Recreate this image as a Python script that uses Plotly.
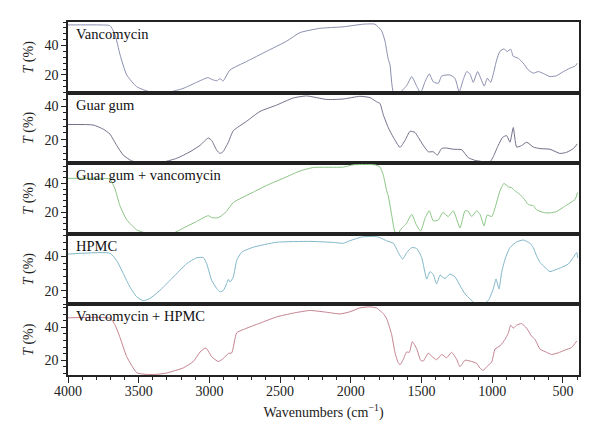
import plotly.graph_objects as go
from plotly.subplots import make_subplots

panel_labels = ["Vancomycin", "Guar gum", "Guar gum + vancomycin", "HPMC", "Vancomycin + HPMC"]
colors = ["#8a8eae", "#746e88", "#88c482", "#80b6c8", "#c4818f"]
y_ranges = [[8, 56], [6, 48], [5, 54], [12, 53], [11, 54]]

wn_vanco = [4000, 3774, 3703, 3668, 3632, 3585, 3514, 3420, 3279, 3187, 3090, 3010, 2984, 2948, 2925, 2904,
            2854, 2736, 2595, 2453, 2359, 2218, 2055, 1914, 1829, 1782, 1758, 1737, 1723, 1699, 1664, 1629,
            1603, 1569, 1534, 1506, 1475, 1445, 1417, 1381, 1357, 1299, 1263, 1233, 1204, 1180, 1157, 1134,
            1103, 1074, 1056, 1035, 1011, 992, 968, 945, 917, 893, 869, 851, 815, 780, 745, 709, 674, 639,
            591, 544, 497, 450, 414, 398]
t_vanco = [54, 54, 53.5, 47.6, 33.8, 20, 12, 8.5, 8.5, 10.8, 15, 18.2, 17, 16, 17.5, 15.8,
           23.4, 29.2, 36.1, 43, 48.8, 51.7, 52.7, 54.5, 54.5, 50, 43, 31.5, 26.9, 8.5, 7.2, 10.1,
           13, 18.9, 12.4, 7.8, 15.4, 20.7, 15.4, 14.3, 19.3, 20, 17.7, 8.5, 17, 22.3, 20.7, 15,
           22.3, 16, 12.4, 17.7, 15, 20.7, 30.3, 36.1, 37.7, 36, 37.5, 32.7, 31.3, 28, 23.4, 21.2, 22.3, 21,
           18.9, 19.5, 22.3, 24.6, 26, 28]

wn_guar = [4000, 3821, 3750, 3703, 3656, 3609, 3550, 3467, 3349, 3231, 3137, 3066, 3008, 2984, 2948, 2925,
           2902, 2866, 2831, 2736, 2642, 2524, 2407, 2312, 2170, 2053, 1935, 1864, 1817, 1794, 1770, 1735,
           1699, 1652, 1617, 1581, 1546, 1523, 1487, 1452, 1417, 1388, 1357, 1322, 1275, 1216, 1169, 1122,
           1086, 1051, 1015, 992, 957, 926, 898, 874, 851, 827, 792, 756, 709, 662, 591, 521, 473, 426, 398]
t_guar = [29, 28.7, 26.2, 23.3, 16.6, 10.8, 7.4, 6.2, 6.3, 8.9, 12.8, 16.6, 21, 19.5, 13.7, 11.8,
          13, 18.5, 25.3, 31, 36.8, 40.6, 44.8, 46, 43.9, 44.2, 45.8, 45, 42.5, 41.6, 34.8, 27.2,
          21.4, 15.4, 19.5, 25, 24.3, 21.4, 16.6, 12.8, 12.8, 10.8, 14.8, 15, 14.3, 14, 9.3, 7.7,
          7.2, 6.5, 6.8, 9.9, 16.6, 21.4, 22.4, 18.5, 27.2, 15.6, 16.5, 18.5, 15.6, 14.7, 14.3, 11.8, 12.5, 14.7, 17.5]

wn_gv = [4000, 3774, 3703, 3668, 3632, 3585, 3514, 3443, 3255, 3185, 3090, 3008, 2984, 2948, 2925, 2878,
         2831, 2690, 2595, 2453, 2359, 2265, 2053, 1982, 1829, 1794, 1770, 1746, 1735, 1711, 1687, 1666,
         1640, 1617, 1605, 1569, 1539, 1506, 1475, 1445, 1417, 1381, 1350, 1311, 1275, 1228, 1192, 1169,
         1145, 1110, 1086, 1058, 1035, 1003, 980, 945, 917, 886, 862, 839, 815, 780, 745, 709, 686, 639,
         591, 544, 497, 450, 414, 396]
t_gv = [43.5, 43.5, 43, 36.2, 24.3, 14.8, 7.7, 5.4, 5.6, 8.9, 13.6, 17.6, 16.3, 16, 16.8, 20.7,
        26.7, 33.9, 38.6, 44.6, 48.6, 51, 51.3, 52.9, 52.9, 51.4, 45.7, 34.8, 31.4, 18.1, 6.2, 5.3,
        8.9, 11, 12.4, 18.5, 11.7, 6.9, 15.7, 21, 14, 14.5, 19.8, 17, 21, 9.1, 21, 20.6,
        17, 21, 18.5, 10.5, 18, 17, 22.9, 34.8, 40, 37.6, 37, 34.8, 33.1, 30, 25.3, 24.5, 21.7, 19.8,
        19.5, 20.5, 23.4, 26.4, 28.8, 33.6]

wn_hpmc = [4000, 3703, 3656, 3609, 3562, 3514, 3467, 3420, 3349, 3255, 3161, 3090, 3043, 3019, 2984, 2948,
           2925, 2902, 2878, 2866, 2854, 2831, 2807, 2772, 2690, 2524, 2289, 2124, 2053, 2006, 1912, 1817,
           1794, 1746, 1699, 1664, 1633, 1605, 1569, 1534, 1499, 1463, 1440, 1417, 1393, 1369, 1334, 1299,
           1263, 1228, 1192, 1157, 1122, 1086, 1063, 1027, 992, 973, 952, 933, 909, 874, 827, 780, 733, 709,
           686, 662, 627, 591, 556, 509, 462, 426, 402, 395]
t_hpmc = [41.2, 41.7, 37.5, 29.9, 22.1, 16.4, 14.1, 15.5, 20.2, 27.9, 35.6, 39.1, 39.2, 35.6, 26, 21.2,
          19.3, 20, 24.1, 26.5, 25, 27.9, 37.5, 42.3, 45.2, 48.1, 48.6, 48, 47.5, 49, 51.3, 51.3,
          50.8, 48.9, 47.5, 42.1, 38.3, 42, 45, 44.5, 39.3, 26.8, 31, 29.5, 23.9, 29, 27, 29.6,
          28, 23, 18.1, 15.2, 12.6, 12.3, 12.3, 14.3, 21, 26.8, 21, 30.6, 38.3, 45, 48.3, 49.4, 47.5, 45,
          40.2, 36.4, 33.5, 31, 32, 33.5, 35.4, 39.3, 42.1, 39]

wn_vh = [4000, 3703, 3668, 3632, 3585, 3514, 3455, 3371, 3302, 3255, 3185, 3114, 3066, 3031, 3019, 2984,
         2937, 2902, 2866, 2842, 2807, 2760, 2642, 2524, 2407, 2289, 2170, 2076, 2006, 1935, 1864, 1817,
         1794, 1770, 1746, 1711, 1687, 1668, 1652, 1629, 1605, 1586, 1565, 1534, 1506, 1487, 1475, 1452,
         1428, 1393, 1357, 1322, 1287, 1251, 1228, 1192, 1157, 1110, 1086, 1063, 1039, 1003, 980, 945,
         909, 886, 869, 851, 827, 792, 756, 721, 697, 662, 615, 580, 533, 485, 438, 402]
t_vh = [45.8, 45.5, 41.6, 33.8, 22.2, 12.4, 11.4, 11.4, 12.2, 13.4, 15.3, 19.2, 25, 27.4, 27, 22.2,
        19.2, 21, 24.1, 24.5, 36.7, 38.7, 42.6, 46.4, 48.7, 50.3, 49.2, 48.2, 49.5, 51.9, 52.5, 51.8,
        50.2, 48.4, 45.2, 35.6, 24.5, 19.2, 17.2, 20.5, 25, 24.8, 31.3, 27, 20, 19.5, 21.2, 24.3,
        22.5, 20.3, 23.5, 21.5, 24.8, 20.5, 16.1, 20, 19.5, 18.1, 15.2, 13.8, 16, 19, 26.8, 28.7,
        32.7, 36.5, 41.4, 39.5, 41.4, 42.3, 39.5, 34.6, 32.7, 26.8, 24.8, 23.5, 24.5, 26.2, 27.8, 31.7]

x_tick_step = 500
y_tick_step = 20
x_range = [4000, 386]

series = [(wn_vanco, t_vanco), (wn_guar, t_guar), (wn_gv, t_gv), (wn_hpmc, t_hpmc), (wn_vh, t_vh)]

FONT = "Liberation Serif"

fig = make_subplots(rows=5, cols=1, shared_xaxes=True, vertical_spacing=0)

for i, (wn, t) in enumerate(series):
    r = i + 1
    fig.add_trace(go.Scatter(x=wn, y=t, mode="lines",
                             line=dict(color=colors[i], width=1, shape="spline", smoothing=0.5),
                             showlegend=False, hoverinfo="skip"), row=r, col=1)
    fig.update_yaxes(range=y_ranges[i], dtick=y_tick_step, tick0=0, ticks="outside", ticklen=5,
                     tickwidth=1, tickcolor="#222",
                     minor=dict(dtick=4, tick0=0, ticks="outside", ticklen=3, tickcolor="#222"),
                     showline=True, mirror=True, linecolor="#222", linewidth=1.5,
                     showgrid=False, zeroline=False,
                     title=dict(text="<i>T</i> (%)", font=dict(size=14, family=FONT, color="#222"), standoff=8),
                     tickfont=dict(size=14, family=FONT, color="#222"),
                     row=r, col=1)
    fig.update_xaxes(range=x_range, showline=True, mirror=True, linecolor="#222", linewidth=1.5,
                     showgrid=False, zeroline=False, row=r, col=1)
    fig.add_annotation(text=panel_labels[i], xref="x domain" if r == 1 else f"x{r} domain",
                       yref="y domain" if r == 1 else f"y{r} domain",
                       x=0.012, y=1, xanchor="left", yanchor="top", yshift=-2, showarrow=False,
                       font=dict(size=14.5, family=FONT, color="#111"))

fig.update_xaxes(ticks="outside", ticklen=6, tickcolor="#222", dtick=x_tick_step, tick0=0,
                 minor=dict(dtick=100, tick0=0, ticks="outside", ticklen=3, tickcolor="#222"),
                 tickfont=dict(size=14, family=FONT, color="#222"), ticklabelstandoff=-4,
                 title=dict(text="Wavenumbers (cm<sup>−1</sup>)", font=dict(size=14, family=FONT, color="#222"),
                            standoff=10),
                 row=5, col=1)

fig.update_layout(width=600, height=448, margin=dict(l=60, r=29, t=12, b=81),
                  plot_bgcolor="white", paper_bgcolor="white",
                  font=dict(family=FONT))

fig.write_html("out.html")
